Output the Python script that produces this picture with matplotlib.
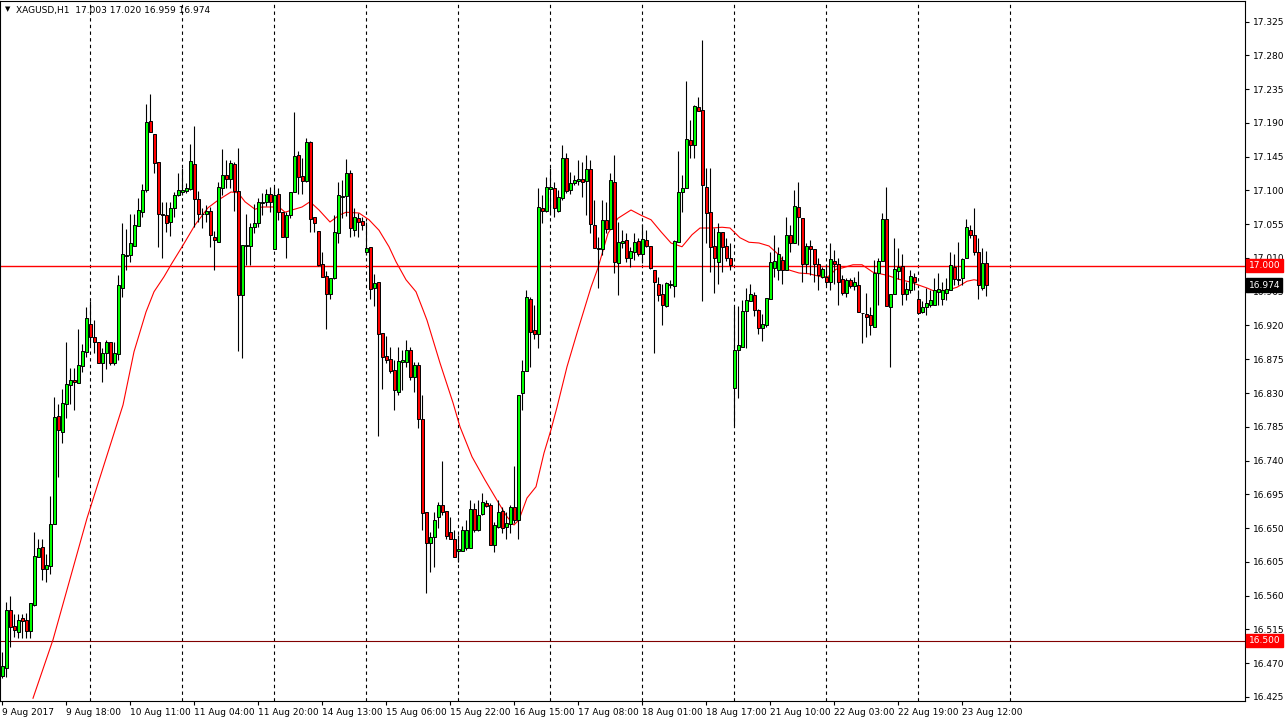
import matplotlib
matplotlib.use("Agg")
import matplotlib.pyplot as plt
import matplotlib.transforms as mtransforms
import numpy as np

# XAGUSD H1 candles, one entry per bar
opens = [16.453, 16.464, 16.541, 16.519, 16.512, 16.530, 16.527, 16.513, 16.547, 16.611,
         16.625, 16.596, 16.600, 16.655, 16.799, 16.778, 16.816, 16.841, 16.847, 16.843,
         16.866, 16.885, 16.922, 16.905, 16.898, 16.870, 16.883, 16.898, 16.870, 16.882,
         16.970, 17.013, 17.014, 17.026, 17.053, 17.072, 17.100, 17.193, 17.175, 17.138,
         17.068, 17.067, 17.058, 17.077, 17.094, 17.098, 17.099, 17.102, 17.136, 17.088,
         17.068, 17.068, 17.073, 17.038, 17.032, 17.104, 17.120, 17.115, 17.136, 17.099,
         16.960, 17.026, 17.026, 17.051, 17.056, 17.084, 17.085, 17.095, 17.022, 17.095,
         17.071, 17.038, 17.067, 17.098, 17.148, 17.119, 17.113, 17.164, 17.065, 17.046,
         17.002, 16.986, 16.962, 16.983, 17.043, 17.092, 17.093, 17.123, 17.048, 17.063,
         17.059, 17.018, 17.024, 16.970, 16.978, 16.910, 16.879, 16.875, 16.861, 16.831,
         16.872, 16.872, 16.887, 16.852, 16.867, 16.795, 16.672, 16.630, 16.638, 16.665,
         16.681, 16.673, 16.645, 16.636, 16.620, 16.620, 16.624, 16.624, 16.675, 16.647,
         16.669, 16.684, 16.681, 16.628, 16.652, 16.673, 16.651, 16.655, 16.678, 16.661,
         16.830, 16.859, 16.956, 16.914, 16.909, 17.076, 17.073, 17.102, 17.103, 17.073,
         17.090, 17.144, 17.100, 17.110, 17.113, 17.115, 17.113, 17.128, 17.054, 17.022,
         17.022, 17.061, 17.049, 17.111, 17.003, 17.030, 17.034, 17.010, 17.018, 17.033,
         17.015, 17.034, 17.026, 16.994, 16.976, 16.962, 16.946, 16.974, 16.973, 17.031,
         17.098, 17.103, 17.168, 17.160, 17.211, 17.207, 17.105, 17.071, 17.026, 17.005,
         17.044, 17.026, 17.010, 16.837, 16.887, 16.892, 16.939, 16.953, 16.961, 16.941,
         16.917, 16.921, 16.956, 16.997, 16.994, 17.007, 16.994, 17.041, 17.030, 17.078,
         17.064, 17.002, 17.026, 17.022, 17.002, 16.985, 16.985, 16.978, 17.006, 17.002,
         16.982, 16.963, 16.980, 16.973, 16.974, 16.937, 16.935, 16.934, 16.918, 16.990,
         17.006, 17.062, 16.945, 16.962, 16.993, 16.999, 16.962, 16.967, 16.985, 16.956,
         16.938, 16.945, 16.947, 16.947, 16.965, 16.956, 16.963, 16.967, 16.998, 16.982,
         16.983, 17.010, 17.047, 17.041, 17.018, 16.970, 17.003]
highs = [16.485, 16.552, 16.559, 16.536, 16.536, 16.536, 16.537, 16.550, 16.645, 16.635,
         16.635, 16.616, 16.693, 16.824, 16.816, 16.836, 16.898, 16.863, 16.863, 16.915,
         16.895, 16.945, 16.953, 16.927, 16.898, 16.890, 16.901, 16.898, 16.898, 16.987,
         17.056, 17.049, 17.068, 17.068, 17.090, 17.109, 17.215, 17.229, 17.175, 17.138,
         17.085, 17.085, 17.085, 17.098, 17.123, 17.130, 17.110, 17.162, 17.186, 17.099,
         17.076, 17.081, 17.078, 17.046, 17.112, 17.155, 17.141, 17.141, 17.138, 17.157,
         17.027, 17.068, 17.056, 17.082, 17.090, 17.096, 17.102, 17.105, 17.105, 17.103,
         17.071, 17.072, 17.098, 17.205, 17.152, 17.143, 17.170, 17.166, 17.065, 17.046,
         17.018, 16.992, 16.983, 17.067, 17.112, 17.114, 17.142, 17.127, 17.076, 17.070,
         17.065, 17.058, 17.024, 16.989, 16.978, 16.910, 16.906, 16.892, 16.874, 16.892,
         16.887, 16.901, 16.892, 16.872, 16.872, 16.827, 16.672, 16.645, 16.672, 16.685,
         16.739, 16.673, 16.665, 16.647, 16.641, 16.653, 16.661, 16.687, 16.684, 16.687,
         16.696, 16.687, 16.683, 16.658, 16.687, 16.678, 16.671, 16.681, 16.733, 16.828,
         16.874, 16.968, 16.958, 16.947, 17.103, 17.094, 17.118, 17.130, 17.112, 17.101,
         17.161, 17.150, 17.125, 17.121, 17.141, 17.138, 17.147, 17.141, 17.087, 17.038,
         17.087, 17.085, 17.123, 17.147, 17.058, 17.047, 17.043, 17.025, 17.043, 17.036,
         17.055, 17.047, 17.026, 16.994, 16.985, 16.976, 16.978, 16.981, 17.034, 17.152,
         17.121, 17.246, 17.194, 17.214, 17.224, 17.301, 17.130, 17.130, 17.050, 17.056,
         17.045, 17.036, 17.030, 16.945, 16.946, 16.954, 16.970, 16.976, 16.965, 16.942,
         16.935, 16.957, 17.018, 17.041, 17.025, 17.013, 17.065, 17.054, 17.101, 17.112,
         17.064, 17.030, 17.034, 17.022, 17.010, 16.998, 17.002, 17.030, 17.021, 17.010,
         16.987, 16.983, 16.983, 16.984, 16.993, 16.937, 16.963, 16.945, 17.007, 17.010,
         17.070, 17.105, 16.962, 17.036, 17.023, 17.016, 16.978, 16.994, 16.990, 16.967,
         16.953, 16.970, 16.967, 16.983, 16.990, 16.978, 16.983, 17.018, 17.016, 17.032,
         17.010, 17.062, 17.054, 17.077, 17.036, 17.023, 17.020]
lows = [16.450, 16.451, 16.492, 16.505, 16.503, 16.503, 16.503, 16.503, 16.546, 16.611,
        16.581, 16.578, 16.589, 16.655, 16.718, 16.764, 16.797, 16.816, 16.807, 16.843,
        16.858, 16.878, 16.894, 16.883, 16.870, 16.844, 16.862, 16.867, 16.867, 16.874,
        16.958, 16.994, 17.004, 17.026, 17.053, 17.065, 17.098, 17.178, 17.124, 17.025,
        17.010, 17.044, 17.039, 17.065, 17.093, 17.094, 17.096, 17.101, 17.052, 17.058,
        17.050, 17.058, 17.024, 16.994, 17.032, 17.094, 17.103, 17.103, 17.073, 16.886,
        16.877, 17.001, 17.001, 17.043, 17.052, 17.067, 17.079, 17.072, 17.022, 17.061,
        17.038, 17.010, 17.063, 17.098, 17.095, 17.095, 17.112, 17.045, 17.044, 17.000,
        16.985, 16.916, 16.955, 16.982, 17.030, 17.063, 17.066, 17.038, 17.039, 17.038,
        17.047, 17.014, 16.956, 16.946, 16.773, 16.836, 16.870, 16.856, 16.807, 16.827,
        16.834, 16.865, 16.847, 16.832, 16.783, 16.648, 16.564, 16.592, 16.598, 16.650,
        16.667, 16.636, 16.635, 16.612, 16.605, 16.620, 16.621, 16.624, 16.645, 16.646,
        16.667, 16.678, 16.628, 16.618, 16.650, 16.643, 16.636, 16.643, 16.657, 16.636,
        16.808, 16.859, 16.865, 16.902, 16.890, 17.056, 17.072, 17.067, 17.065, 17.072,
        17.087, 17.096, 17.095, 17.107, 17.107, 17.092, 17.067, 17.043, 17.023, 16.970,
        17.014, 17.043, 17.049, 16.990, 16.961, 17.023, 17.005, 16.998, 17.007, 17.012,
        17.003, 17.024, 16.996, 16.884, 16.952, 16.921, 16.945, 16.970, 16.958, 17.031,
        17.071, 17.103, 17.143, 17.143, 17.206, 16.953, 17.030, 16.991, 16.963, 16.976,
        16.991, 17.006, 16.994, 16.787, 16.823, 16.892, 16.890, 16.952, 16.933, 16.908,
        16.900, 16.918, 16.955, 16.985, 16.981, 16.976, 16.994, 17.018, 17.030, 17.027,
        16.978, 16.990, 16.987, 16.978, 16.967, 16.983, 16.974, 16.967, 16.976, 16.947,
        16.961, 16.958, 16.970, 16.967, 16.938, 16.896, 16.905, 16.907, 16.918, 16.947,
        17.006, 16.946, 16.865, 16.962, 16.982, 16.947, 16.954, 16.963, 16.967, 16.937,
        16.937, 16.934, 16.945, 16.947, 16.947, 16.947, 16.954, 16.967, 16.974, 16.974,
        16.974, 17.010, 17.036, 17.014, 16.956, 16.967, 16.959]
closes = [16.466, 16.541, 16.518, 16.514, 16.528, 16.526, 16.513, 16.550, 16.613, 16.624,
          16.596, 16.601, 16.656, 16.798, 16.781, 16.816, 16.842, 16.847, 16.844, 16.868,
          16.886, 16.930, 16.905, 16.898, 16.870, 16.883, 16.898, 16.870, 16.883, 16.974,
          17.015, 17.014, 17.030, 17.054, 17.074, 17.100, 17.191, 17.178, 17.136, 17.068,
          17.067, 17.057, 17.077, 17.094, 17.100, 17.100, 17.103, 17.139, 17.088, 17.068,
          17.069, 17.073, 17.040, 17.034, 17.105, 17.120, 17.115, 17.136, 17.099, 16.960,
          17.027, 17.027, 17.051, 17.056, 17.084, 17.085, 17.095, 17.084, 17.094, 17.071,
          17.038, 17.067, 17.098, 17.146, 17.118, 17.113, 17.165, 17.062, 17.057, 17.000,
          16.985, 16.962, 16.983, 17.044, 17.094, 17.093, 17.123, 17.050, 17.064, 17.058,
          17.054, 17.023, 16.968, 16.976, 16.908, 16.878, 16.874, 16.860, 16.834, 16.873,
          16.874, 16.887, 16.852, 16.868, 16.795, 16.670, 16.630, 16.638, 16.661, 16.681,
          16.672, 16.639, 16.636, 16.612, 16.622, 16.648, 16.648, 16.676, 16.647, 16.668,
          16.684, 16.680, 16.628, 16.654, 16.672, 16.650, 16.657, 16.678, 16.661, 16.828,
          16.859, 16.958, 16.912, 16.909, 17.078, 17.073, 17.104, 17.104, 17.076, 17.091,
          17.143, 17.099, 17.110, 17.114, 17.115, 17.111, 17.128, 17.055, 17.023, 17.023,
          17.061, 17.049, 17.114, 17.004, 17.031, 17.033, 17.010, 17.019, 17.031, 17.015,
          17.035, 17.026, 16.997, 16.978, 16.961, 16.947, 16.976, 16.975, 17.033, 17.098,
          17.103, 17.168, 17.160, 17.212, 17.206, 17.107, 17.070, 17.025, 17.010, 17.044,
          17.024, 17.010, 17.001, 16.887, 16.894, 16.939, 16.954, 16.962, 16.941, 16.917,
          16.922, 16.957, 17.005, 17.006, 17.016, 16.994, 17.041, 17.030, 17.079, 17.064,
          17.002, 17.026, 17.022, 17.002, 16.987, 16.995, 16.978, 17.008, 17.002, 16.978,
          16.963, 16.981, 16.973, 16.978, 16.938, 16.937, 16.932, 16.920, 16.990, 17.006,
          17.062, 16.946, 16.962, 16.995, 16.998, 16.962, 16.968, 16.986, 16.978, 16.937,
          16.945, 16.950, 16.954, 16.967, 16.968, 16.967, 16.969, 17.001, 16.982, 16.981,
          17.009, 17.051, 17.041, 17.018, 16.974, 17.003, 16.974]

# moving average line (bar index, price)
ma_bar = [7.75, 12.75, 21.25, 30.25, 33, 36, 38, 40.5, 42.25, 45.25, 48.25, 51.5, 54,
          57.25, 59, 60.75, 63.25, 65, 69.25, 70.75, 72.5, 75, 77, 79.25, 82, 84.25, 86,
          89.25, 91.75, 94.25, 96.75, 98.5, 101, 103.5, 105.25, 106.25, 109.5, 112.75,
          114.5, 117.5, 120.75, 123.75, 126.25, 128, 129.25, 131.25, 133.5, 135.5, 137.25,
          138.75, 141.25, 143.75, 147.25, 149, 151.5, 154, 157.25, 159.75, 162.25, 164.75,
          167.25, 170, 172.5, 174.5, 177.5, 180, 182, 184.5, 186.75, 189.25, 191.75,
          194.25, 196.75, 199.25, 201.75, 204.75, 206.5, 208.5, 210.25, 212.75, 215,
          217.75, 221.25, 224, 227, 231.25, 233, 236.25, 238.75, 241.25, 243, 245, 246]
ma_price = [16.423, 16.501, 16.663, 16.814, 16.885, 16.938, 16.965, 16.985, 17.001, 17.027,
            17.054, 17.077, 17.087, 17.098, 17.097, 17.085, 17.075, 17.078, 17.078, 17.071,
            17.074, 17.078, 17.085, 17.074, 17.058, 17.067, 17.071, 17.070, 17.061, 17.047,
            17.025, 17.005, 16.981, 16.965, 16.941, 16.927, 16.870, 16.817, 16.785, 16.745,
            16.714, 16.687, 16.665, 16.654, 16.661, 16.690, 16.705, 16.750, 16.781, 16.811,
            16.865, 16.910, 16.971, 16.997, 17.043, 17.063, 17.074, 17.067, 17.061, 17.045,
            17.030, 17.025, 17.041, 17.050, 17.050, 17.051, 17.050, 17.037, 17.031, 17.030,
            17.026, 17.014, 16.994, 16.990, 16.989, 16.985, 16.985, 16.995, 16.997, 17.001,
            17.001, 16.991, 16.987, 16.982, 16.978, 16.970, 16.966, 16.967, 16.971, 16.979,
            16.981, 16.979, 16.978]

time_labels = ["9 Aug 2017", "9 Aug 18:00", "10 Aug 11:00", "11 Aug 04:00", "11 Aug 20:00",
               "14 Aug 13:00", "15 Aug 06:00", "15 Aug 22:00", "16 Aug 15:00", "17 Aug 08:00",
               "18 Aug 01:00", "18 Aug 17:00", "21 Aug 10:00", "22 Aug 03:00", "22 Aug 19:00",
               "23 Aug 12:00"]
price_ticks = [16.425, 16.470, 16.515, 16.560, 16.605, 16.650, 16.695, 16.740, 16.785,
               16.830, 16.875, 16.920, 16.965, 17.010, 17.055, 17.100, 17.145, 17.190,
               17.235, 17.280, 17.325]
level_hi = 17.000
level_lo = 16.500

plt.rcParams['font.family'] = ['DejaVu Sans']

fig = plt.figure(figsize=(12.87, 7.22), dpi=100)
ax = fig.add_axes([0.0, 21 / 722, 1245 / 1287, 700 / 722])

o = np.array(opens)
h = np.array(highs)
l = np.array(lows)
c = np.array(closes)
idx = np.arange(len(o))
up = c >= o

# grid: dashed verticals every 23 bars (MT4 draws them only up to the chart shift)
for g in range(22, 253, 23):
    ax.axvline(g, color='black', lw=0.8, ls=(0, (3, 3)), zorder=1)

ax.axhline(level_hi, color='#ff0000', lw=1.0, zorder=2)
ax.axhline(level_lo, color='#800000', lw=0.8, zorder=2)

ax.plot(ma_bar, ma_price, color='#ff0000', lw=0.8, zorder=2)

ax.vlines(idx, l, h, color='black', lw=0.8, zorder=3)
ax.bar(idx[up], (c - o)[up], bottom=o[up], width=0.75, color='#00ff00',
       edgecolor='black', lw=0.7, zorder=4)
ax.bar(idx[~up], (c - o)[~up], bottom=o[~up], width=0.75, color='#ff0000',
       edgecolor='black', lw=0.7, zorder=4)

ax.set_xlim(-0.5, 310.75)
ax.set_ylim(17.354 - 701 / 750, 17.354 - 1 / 750)

ax.yaxis.tick_right()
ax.set_yticks(price_ticks, [f"{p:.3f}" for p in price_ticks])
ax.set_xticks(np.arange(len(time_labels)) * 16, time_labels)
for t in ax.get_xticklabels():
    t.set_ha('left')
ax.tick_params(axis='both', direction='out', length=3, width=0.8, labelsize=6.5,
               colors='black')
ax.tick_params(axis='y', pad=3)
ax.tick_params(axis='x', pad=2)
for s in ax.spines.values():
    s.set_color('black')
    s.set_linewidth(0.8)

# price tags on the right scale
tr = mtransforms.blended_transform_factory(ax.transAxes, ax.transData)
for val, bg in [(level_hi, '#ff0000'), (level_lo, '#ff0000'), (closes[-1], 'black')]:
    ax.text(1.003, val, f"{val:.3f}", transform=tr, ha='left', va='center',
            fontsize=6.5, color='white', zorder=6, clip_on=False,
            bbox=dict(boxstyle='square,pad=0.25', facecolor=bg, edgecolor=bg))

ax.text(0.004, 0.993, "\u25bc", transform=ax.transAxes, ha='left', va='top',
        fontsize=5, color='black')
ax.text(0.013, 0.993, f"XAGUSD,H1  {opens[-1]:.3f} {highs[-1]:.3f} {lows[-1]:.3f} {closes[-1]:.3f}",
        transform=ax.transAxes, ha='left', va='top', fontsize=6.5, color='black')

fig.savefig('out.png', dpi=100)
